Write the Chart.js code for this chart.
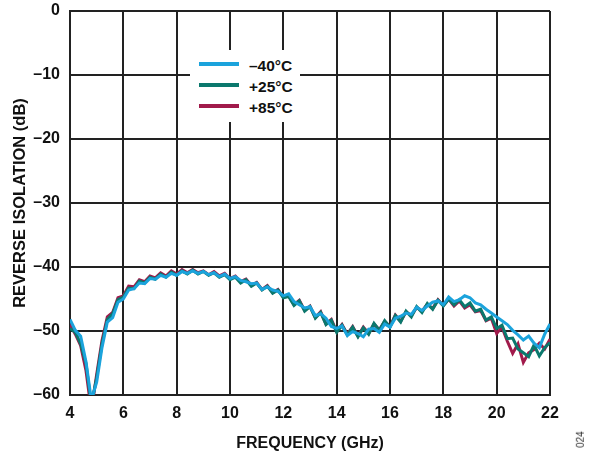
<!DOCTYPE html>
<html>
<head>
<meta charset="utf-8">
<script src="https://cdn.jsdelivr.net/npm/chart.js@4.4.0/dist/chart.umd.min.js"></script>
<style>
  body { margin: 0; background: #fff; }
  #wrap { position: relative; width: 592px; height: 454px; }
  #legend { position: absolute; left: 190px; top: 50px; width: 110px; height: 72px; background: #fff; }
  .lg-line { position: absolute; left: 9px; width: 40px; height: 4px; }
  .lg-text { position: absolute; left: 59px; font: bold 15.5px 'Liberation Sans', Arial, sans-serif; line-height: 18px; color: #111; }
  #fig { position: absolute; left: 572px; top: 434px; font: 10px 'Liberation Sans', Arial, sans-serif; color: #333; transform: rotate(-90deg); transform-origin: center; }
</style>
</head>
<body>
<div id="wrap">
  <canvas id="chart" width="592" height="454"></canvas>
  <div id="legend"></div>
  <div id="fig">024</div>
</div>
<script>
// Reverse isolation vs frequency, three temperatures

const FREQ = [
  4.0, 4.2, 4.4, 4.6, 4.8, 5.0, 5.2, 5.4, 5.6, 5.8,
  6.0, 6.2, 6.4, 6.6, 6.8, 7.0, 7.2, 7.4, 7.6, 7.8,
  8.0, 8.2, 8.4, 8.6, 8.8, 9.0, 9.2, 9.4, 9.6, 9.8,
  10.0, 10.2, 10.4, 10.6, 10.8, 11.0, 11.2, 11.4, 11.6, 11.8,
  12.0, 12.2, 12.4, 12.6, 12.8, 13.0, 13.2, 13.4, 13.6, 13.8,
  14.0, 14.2, 14.4, 14.6, 14.8, 15.0, 15.2, 15.4, 15.6, 15.8,
  16.0, 16.2, 16.4, 16.6, 16.8, 17.0, 17.2, 17.4, 17.6, 17.8,
  18.0, 18.2, 18.4, 18.6, 18.8, 19.0, 19.2, 19.4, 19.6, 19.8,
  20.0, 20.2, 20.4, 20.6, 20.8, 21.0, 21.2, 21.4, 21.6, 21.8,
  22.0,
];

const ISO_M40 = [
  -48.2, -49.9, -50.8, -54.8, -60.8, -58.0, -52.6, -48.6, -47.9, -45.5,
  -45.0, -43.6, -43.4, -42.5, -42.6, -41.8, -41.9, -41.3, -41.6, -41.0,
  -41.3, -40.7, -41.0, -40.6, -41.0, -40.7, -41.2, -40.9, -41.5, -41.1,
  -41.8, -41.5, -42.1, -42.3, -42.6, -42.5, -43.5, -43.1, -43.6, -43.8,
  -44.5, -44.2, -45.4, -45.9, -46.4, -46.2, -47.6, -47.3, -48.0, -49.3,
  -49.6, -49.2, -50.7, -50.1, -50.4, -50.9, -49.7, -49.6, -50.2, -48.9,
  -49.4, -48.0, -47.7, -47.2, -47.4, -46.3, -46.8, -46.1, -45.5, -45.3,
  -45.9, -44.7, -45.4, -45.1, -44.5, -44.8, -45.6, -45.9, -46.6, -47.2,
  -47.8, -48.4, -49.0, -49.9, -50.6, -51.4, -50.8, -51.9, -52.6, -50.5,
  -48.9,
];

const ISO_P25 = [
  -49.6, -50.2, -52.0, -55.1, -61.5, -57.3, -52.0, -48.2, -47.3, -45.1,
  -44.7, -43.3, -43.4, -42.2, -42.5, -41.6, -41.9, -41.1, -41.6, -40.8,
  -41.3, -40.6, -41.1, -40.5, -41.1, -40.7, -41.3, -40.9, -41.6, -41.2,
  -42.0, -41.6, -42.5, -42.0, -43.0, -42.5, -43.6, -43.0, -44.1, -43.6,
  -44.8, -44.6, -46.0, -45.3, -46.9, -46.2, -48.0, -47.1, -49.0, -48.3,
  -50.2, -49.1, -50.6, -49.4, -50.9, -49.5, -50.5, -48.8, -49.9, -48.4,
  -49.4, -47.6, -48.6, -46.9, -47.8, -46.2, -47.1, -45.7, -46.6, -45.2,
  -46.1, -45.0, -45.9, -45.1, -46.2, -45.6, -46.9, -46.6, -48.3, -47.8,
  -49.6, -49.1, -51.2, -51.1, -52.8, -53.4, -54.0, -52.2, -53.9, -52.6,
  -51.8,
];

const ISO_P85 = [
  -49.0, -50.5, -52.3, -56.2, -62.5, -56.8, -51.5, -47.8, -47.1, -44.8,
  -44.5, -43.0, -43.1, -42.0, -42.3, -41.4, -41.7, -40.9, -41.4, -40.6,
  -41.1, -40.4, -40.9, -40.4, -40.9, -40.6, -41.2, -40.7, -41.4, -41.0,
  -41.8, -41.4, -42.3, -41.9, -42.9, -42.4, -43.5, -42.9, -44.0, -43.5,
  -44.7, -44.5, -45.9, -45.2, -46.8, -46.1, -47.9, -47.0, -48.9, -48.2,
  -50.1, -49.0, -50.5, -49.3, -50.8, -49.4, -50.4, -48.9, -49.8, -48.5,
  -49.3, -47.5, -48.5, -47.0, -47.6, -46.3, -46.9, -45.8, -46.5, -45.1,
  -46.0, -45.0, -46.1, -45.3, -46.4, -45.9, -47.0, -46.8, -48.4, -48.0,
  -50.4, -49.4, -51.6, -53.5, -52.0, -54.9, -53.4, -52.9, -51.9, -52.8,
  -51.3,
];

const SERIES_LABELS = ['\u201340\u00b0C', '+25\u00b0C', '+85\u00b0C'];
const SERIES_DATA = [ISO_M40, ISO_P25, ISO_P85];
const SERIES_COLORS = ['#1ba3dc', '#0b786d', '#a11a4b'];

const X_TITLE = 'FREQUENCY (GHz)';
const Y_TITLE = 'REVERSE ISOLATION (dB)';

Chart.defaults.font.family = "'Liberation Sans', Arial, sans-serif";
Chart.defaults.font.weight = 'bold';
Chart.defaults.font.size = 16;
Chart.defaults.color = '#111';

const GRID = '#222';

// first dataset is drawn on top
const datasets = SERIES_DATA.map((vals, i) => ({
  label: SERIES_LABELS[i],
  data: FREQ.map((f, j) => ({ x: f, y: vals[j] })),
  borderColor: SERIES_COLORS[i],
  backgroundColor: 'transparent',
  borderWidth: 3,
  pointRadius: 0,
  tension: 0,
}));

new Chart(document.getElementById('chart'), {
  type: 'line',
  data: { datasets },
  options: {
    responsive: false,
    animation: false,
    layout: { padding: { top: 11, right: 42, bottom: 0, left: 0 } },
    plugins: { legend: { display: false }, tooltip: { enabled: false } },
    scales: {
      x: {
        type: 'linear', min: 4, max: 22,
        ticks: { stepSize: 2, padding: 9, color: '#111' },
        grid: { color: GRID, lineWidth: 2, drawTicks: false },
        border: { color: GRID, width: 2 },
        title: { display: true, text: X_TITLE, color: '#111', padding: { top: 0, bottom: 1 } },
        afterFit: (s) => { s.height = 59; },
      },
      y: {
        min: -60, max: 0,
        ticks: {
          stepSize: 10, padding: 10, color: '#111',
          callback: (v) => (v < 0 ? '\u2013' + Math.abs(v) : String(v)),
        },
        grid: { color: GRID, lineWidth: 2, drawTicks: false },
        border: { color: GRID, width: 2 },
        title: { display: true, text: Y_TITLE, color: '#111', font: { size: 16.5 }, padding: { top: 11, bottom: 0 } },
        // fixed width; drop the label overhang so the plot top sits at the layout padding
        afterFit: (s) => { s.width = 70; s.paddingTop = 0; s.paddingBottom = 0; },
      },
    },
  },
});

// legend box sits inside the plot, over the grid
const legend = document.getElementById('legend');
SERIES_LABELS.forEach((lab, i) => {
  const cy = 14 + 21 * i;
  const line = document.createElement('div');
  line.className = 'lg-line';
  line.style.top = (cy - 2) + 'px';
  line.style.background = SERIES_COLORS[i];
  legend.appendChild(line);
  const txt = document.createElement('div');
  txt.className = 'lg-text';
  txt.style.top = (cy - 7) + 'px';
  txt.textContent = lab;
  legend.appendChild(txt);
});
</script>
</body>
</html>
